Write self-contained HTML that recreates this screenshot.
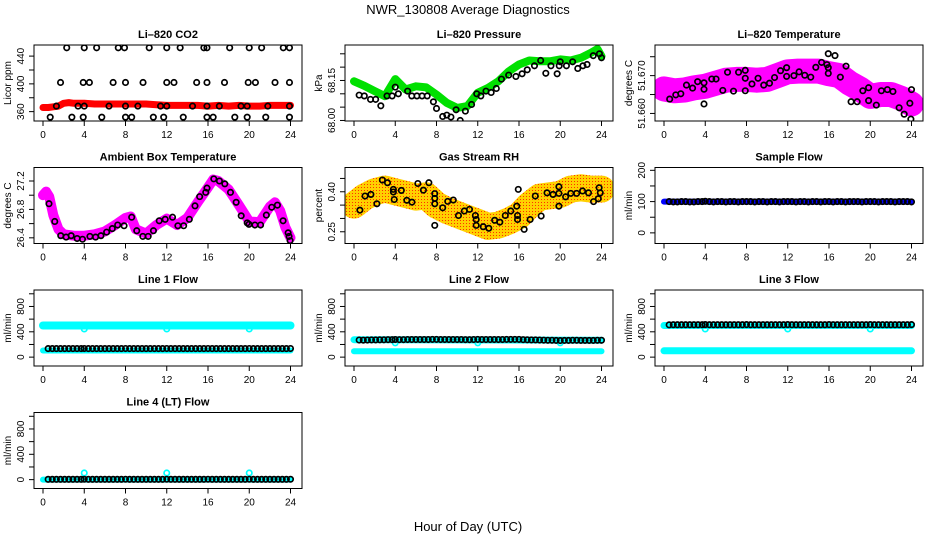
<!DOCTYPE html>
<html><head><meta charset="utf-8"><style>
html,body{margin:0;padding:0;background:#fff;}
svg{display:block;font-family:"Liberation Sans",Arial,sans-serif;}
</style></head><body>
<svg id="chart" width="936" height="540" viewBox="0 0 936 540">
<defs>
<pattern id="rhpat" width="3" height="3" patternUnits="userSpaceOnUse">
<rect width="3" height="3" fill="#ffd000"/>
<rect x="1" y="1" width="1" height="1" fill="#ff3000"/>
</pattern>
</defs>
<rect x="0" y="0" width="936" height="540" fill="#fff"/>
<text x="468" y="14" font-size="13" text-anchor="middle">NWR_130808  Average Diagnostics</text>
<text x="468" y="531" font-size="13" text-anchor="middle">Hour of Day (UTC)</text>
</svg>
<script>
const X_TICKS=[0,4,8,12,16,20,24];
// CO2
const co2BandX=[0,0.5,1,1.5,2,2.5,3,4,5,6,7,8,9,10,11,12,13,14,15,16,17,18,19,20,21,22,23,24];
const co2BandY=[366,366,367,368,372,373,372,372,371,371,371,371,371,371,370,369,369,369,369,368,369,368,369,368,368,369,369,369];
const co2PtX=[2.3,4,5.2,7.3,7.9,10.3,12,13.3,15.6,15.9,18.1,20,21.2,23.3,23.9, 1.7,3.9,4.5,6.8,8,9.7,12,12.7,14.9,15.9,17.6,19.9,20.6,22.5,23.9, 1.3,3.4,4,6.4,8,9.2,11.4,12,14.5,15.9,17.1,19.2,19.8,21.8,23.9, 0.7,2.8,3.9,5.7,8,8.6,10.7,11.7,13.6,15.9,16.5,18.6,19.8,21.6,23.9];
const co2PtY=[452,452,452,452,452,452,452,452,452,452,452,452,452,452,452, 402,402,402,402,402,402,402,402,402,402,402,402,402,402,402, 368,368,368,368,368,368,368,368,368,368,368,368,368,368,368, 352,352,352,352,352,352,352,352,352,352,352,352,352,352,352];
// Pressure
const presBandX=[0,1,2,3,4,5,6,7,8,9,10,11,12,13,14,15,16,17,18,19,20,21,22,23,23.6,24];
const presBandY=[68.147,68.13,68.11,68.091,68.155,68.116,68.128,68.124,68.097,68.066,68.047,68.054,68.104,68.122,68.147,68.184,68.21,68.225,68.222,68.222,68.229,68.225,68.235,68.254,68.268,68.241];
const presPtX=[0.5,1,1.6,2.1,2.6,3.2,3.7,4,4.3,5.2,5.6,6.1,6.6,7.1,7.7,8,8.6,9,9.4,9.9,10.3,10.8,11.4,11.9,12.3,12.8,13.3,13.8,14.3,15,15.7,16.3,16.8,17.5,18.1,18.6,19.1,19.7,19.9,20,20.6,21.2,21.7,22.2,22.6,23.2,23.8,24];
const presPtY=[68.095,68.092,68.079,68.079,68.055,68.092,68.092,68.125,68.1,68.11,68.092,68.092,68.092,68.092,68.07,68.045,68.015,68.02,68.013,68.04,68.0,68.035,68.06,68.1,68.092,68.11,68.105,68.12,68.155,68.17,68.165,68.175,68.19,68.205,68.225,68.177,68.205,68.175,68.205,68.22,68.205,68.22,68.195,68.205,68.21,68.243,68.25,68.235];
// Li-820 temperature
const tempBandX=[0,1,2,3,4,5,6,7,8,9,10,11,12,13,14,15,16,17,18,19,20,21,22,23,24];
const tempBandY=[51.6665,51.6660,51.6662,51.6668,51.6672,51.6680,51.6688,51.6690,51.6690,51.6688,51.6690,51.6700,51.6710,51.6712,51.6712,51.6712,51.6705,51.6700,51.6680,51.6665,51.6645,51.6650,51.6650,51.6640,51.6625];
const tempPtX=[0.55,1.14,1.63,2.18,2.77,3.26,3.88,3.88,3.88,4.63,5.05,5.7,6.16,6.74,7.23,7.88,7.88,7.88,8.53,9.12,9.67,10.23,10.72,11.3,11.89,11.89,12.6,13.1,13.65,14.23,14.72,15.28,15.8,15.93,15.93,15.93,16.58,17.1,17.65,18.14,18.73,19.28,19.84,19.84,20.59,21.08,21.66,22.2,22.8,23.29,23.84,23.94,24.0];
const tempPtY=[51.6638,51.6649,51.6652,51.6675,51.6667,51.6684,51.6681,51.6664,51.6625,51.6691,51.6691,51.6661,51.6709,51.6659,51.6709,51.6714,51.6693,51.6660,51.6678,51.6693,51.6675,51.6680,51.6695,51.6713,51.6721,51.6698,51.6700,51.6710,51.6701,51.6696,51.6722,51.6735,51.6729,51.6721,51.6706,51.6758,51.6753,51.6696,51.6725,51.6631,51.6631,51.6660,51.6668,51.6634,51.6622,51.6660,51.6663,51.6658,51.6615,51.6598,51.6627,51.6585,51.6663];
// Ambient box temperature
const ambBandX=[0,0.3,0.6,1,1.5,2,3,4,5,6,7,8,8.5,9,10,11,12,13,14,15,16,16.5,17,18,19,20,21,22,22.5,23,23.5,24];
const ambBandY=[27.0,27.05,26.98,26.72,26.52,26.45,26.43,26.43,26.45,26.49,26.58,26.68,26.7,26.52,26.46,26.58,26.67,26.58,26.68,26.9,27.11,27.22,27.2,27.08,26.86,26.63,26.62,26.84,26.9,26.78,26.55,26.4];
const ambPtX=[0.58,1.14,1.72,2.24,2.73,3.31,3.83,4.55,5.1,5.62,6.17,6.72,7.24,7.86,8.6,9.09,9.68,10.2,10.71,11.27,11.85,12.56,13.08,13.64,14.19,14.74,15.19,15.78,15.9,16.56,17.11,17.63,18.18,18.73,19.22,19.8,19.97,20.55,21.1,21.66,22.18,22.73,23.28,23.77,23.86,23.96];
const ambPtY=[26.88,26.63,26.43,26.41,26.43,26.39,26.38,26.42,26.41,26.43,26.48,26.53,26.58,26.57,26.69,26.50,26.42,26.42,26.50,26.64,26.66,26.69,26.57,26.57,26.66,26.85,26.98,27.04,27.10,27.23,27.2,27.16,27.04,26.9,26.71,26.61,26.59,26.58,26.58,26.72,26.83,26.86,26.64,26.47,26.42,26.36];
// Gas stream RH
const rhBandX=[0,1,2,3,4,5,6,7,8,9,10,11,12,13,14,15,16,17,18,19,20,21,22,23,24];
const rhBandY=[0.35,0.38,0.40,0.41,0.40,0.39,0.38,0.385,0.35,0.33,0.315,0.30,0.285,0.27,0.275,0.29,0.31,0.35,0.38,0.385,0.39,0.41,0.415,0.41,0.41];
const rhPtX=[0.57,1.07,1.64,2.22,2.75,3.25,3.82,3.82,3.9,4.59,5.12,5.62,6.19,6.73,7.26,7.83,7.83,7.83,7.83,8.6,9.09,9.63,10.13,10.7,11.2,11.77,11.85,11.85,12.53,13.07,13.64,14.14,14.67,15.2,15.78,15.86,15.86,15.93,16.5,17.08,17.58,18.15,18.72,19.3,19.87,19.87,19.87,20.52,21.02,21.59,22.16,22.74,23.23,23.69,23.77,23.88];
const rhPtY=[0.331,0.384,0.39,0.355,0.444,0.434,0.409,0.399,0.371,0.405,0.368,0.361,0.431,0.406,0.434,0.393,0.375,0.355,0.274,0.34,0.364,0.369,0.311,0.328,0.334,0.311,0.296,0.274,0.269,0.263,0.293,0.286,0.311,0.328,0.346,0.311,0.296,0.409,0.259,0.296,0.384,0.309,0.396,0.39,0.394,0.419,0.346,0.381,0.394,0.394,0.403,0.396,0.363,0.374,0.415,0.396];
// Flow panels (black hourly-average points)
const flowPtX=[0.5,0.9,1.3,1.7,2.1,2.5,2.9,3.3,3.7,4.0,4.4,4.8,5.2,5.6,6.0,6.4,6.8,7.2,7.6,8.0,8.4,8.8,9.2,9.6,10.0,10.4,10.8,11.2,11.6,12.0,12.4,12.8,13.2,13.6,14.0,14.4,14.8,15.2,15.6,16.0,16.4,16.8,17.2,17.6,18.0,18.4,18.8,19.2,19.6,20.0,20.4,20.8,21.2,21.6,22.0,22.4,22.8,23.2,23.6,24.0];
const sampleFlowY=[100,99,99,100,100,99,99,100,100,101,100,99,100,100,99,100,100,99,100,100,100,99,100,100,99,100,100,99,100,100,100,99,100,100,99,100,100,99,100,100,99,100,100,99,100,100,100,99,100,100,100,99,100,100,100,99,100,100,100,99];
const line1FlowY=[135,135,135,135,135,135,135,135,135,136,135,135,135,135,135,135,135,135,135,136,135,135,135,135,135,135,135,135,135,136,135,135,135,135,135,135,135,135,135,136,135,135,135,135,135,135,135,135,135,136,135,135,135,135,135,135,135,135,135,136];
const line2FlowY=[270,268,270,272,272,274,274,276,276,278,276,276,278,278,278,278,278,278,280,280,278,278,278,278,278,278,276,276,278,280,278,278,278,278,278,278,280,280,280,280,276,274,272,272,270,268,266,266,264,262,264,264,266,266,264,264,264,264,266,266];
const line3FlowY=[510,512,512,512,512,512,512,512,512,514,512,512,512,512,512,512,512,512,512,514,512,512,512,512,512,512,512,512,512,514,512,512,512,512,512,512,512,512,512,514,512,512,512,512,512,512,512,512,512,514,512,512,512,512,512,512,512,512,512,514];
const line4FlowY=[5,5,5,5,5,5,5,5,5,6,5,5,5,5,5,5,5,5,5,6,5,5,5,5,5,5,5,5,5,6,5,5,5,5,5,5,5,5,5,6,5,5,5,5,5,5,5,5,5,6,5,5,5,5,5,5,5,5,5,6];
// Flow bands
const flowBandX=[0,24];
const sampleBandY=[100,100];
const line1HighY=[500,500];
const line1LowY=[105,105];
const line2HighY=[275,268];
const line2LowY=[92,92];
const line3HighY=[500,500];
const line3LowY=[100,100];
const line4BandY=[0,0];
const cyanDipX=[4,12,20];
const line1DipY=[445,445,445];
const line2DipY=[225,225,225];
const line3DipY=[445,445,445];
const line4DipY=[105,105,105];

const NS='http://www.w3.org/2000/svg';
const svg=document.getElementById('chart');
const COLS=[34,345,655], ROWS=[45,167.5,290,412.5], W=268, H=76;
function mk(tag,attrs,parent){const e=document.createElementNS(NS,tag);for(const k in attrs)e.setAttribute(k,attrs[k]);(parent||svg).appendChild(e);return e;}

function panel(c,r,title,ylabel,ymin,ymax,yTicks,yLabels,name){
  const L=COLS[c],T=ROWS[r];
  const g=mk('g',{});
  
  
  const sx=h=>L+9+h*(247.5/24);
  const sy=v=>T+H-(v-ymin)/(ymax-ymin)*H;
  const clipId='clip'+c+r;
  const cp=mk('clipPath',{id:clipId},g);mk('rect',{x:L,y:T,width:W,height:H},cp);
  const plot=mk('g',{'clip-path':'url(#'+clipId+')'},g);
  const t=mk('text',{x:L+W/2,y:T-7,'font-size':11,'font-weight':'bold','text-anchor':'middle'},g);t.textContent=title;
  
  
  const box=mk('rect',{x:L,y:T,width:W,height:H,fill:'none',stroke:'#000','stroke-width':1},g);
  
  
  X_TICKS.forEach(h=>{
    mk('line',{x1:sx(h),x2:sx(h),y1:T+H,y2:T+H+5,stroke:'#000'},g);
    const tl=mk('text',{x:sx(h),y:T+H+17,'font-size':10,'text-anchor':'middle'},g);tl.textContent=h;
    
    
  });
  yTicks.forEach(v=>{mk('line',{x1:L-5,x2:L,y1:sy(v),y2:sy(v),stroke:'#000'},g);});
  yLabels.forEach(lb=>{
    const v=parseFloat(lb);const y=sy(v);
    const tl=mk('text',{x:L-10,y:y,'font-size':10,'text-anchor':'middle',transform:'rotate(-90 '+(L-10)+' '+y+')'},g);tl.textContent=lb;
    
    
  });
  const yl=mk('text',{x:L-23,y:T+H/2,'font-size':10,'text-anchor':'middle',transform:'rotate(-90 '+(L-23)+' '+(T+H/2)+')'},g);yl.textContent=ylabel;
  
  
  return {plot,sx,sy};
}
function band(p,xs,ys,color,w,name){
  const pts=xs.map((x,i)=>p.sx(x).toFixed(1)+','+p.sy(ys[i]).toFixed(1)).join(' ');
  const pl=mk('polyline',{points:pts,fill:'none',stroke:color,'stroke-width':w,'stroke-linejoin':'round','stroke-linecap':'round'},p.plot);
  
  
}
function pts(p,xs,ys,color,name){
  xs.forEach((x,i)=>{
    const c=mk('circle',{cx:p.sx(x),cy:p.sy(ys[i]),r:2.7,fill:'none',stroke:color,'stroke-width':1.7},p.plot);
    
    
  });
}
const FLOW_TICKS=[0,200,400,600,800,1000], FLOW_LABELS=['0','400','800'];
let p;
p=panel(0,0,'Li\u2013820 CO2','Licor ppm',346.5,456,[360,380,400,420,440],['360','400','440'],'co2');
band(p,co2BandX,co2BandY,'#ff0000',7,'co2-band');pts(p,co2PtX,co2PtY,'#000','co2-point');
p=panel(1,0,'Li\u2013820 Pressure','kPa',67.998,68.283,[68.00,68.05,68.10,68.15,68.20,68.25],['68.00','68.15'],'pressure');
band(p,presBandX,presBandY,'#00e000',8,'pressure-band');pts(p,presPtX,presPtY,'#000','pressure-point');
p=panel(2,0,'Li\u2013820 Temperature','degrees C',51.658,51.6781,[51.660,51.665,51.670,51.675],['51.660','51.670'],'li820-temp');
band(p,tempBandX,tempBandY,'#ff00ff',25,'li820-temp-band');pts(p,tempPtX,tempPtY,'#000','li820-temp-point');
p=panel(0,1,'Ambient Box Temperature','degrees C',26.32,27.39,[26.4,26.6,26.8,27.0,27.2],['26.4','26.8','27.2'],'ambient-temp');
band(p,ambBandX,ambBandY,'#ff00ff',10,'ambient-band');pts(p,ambPtX,ambPtY,'#000','ambient-point');
p=panel(1,1,'Gas Stream RH','percent',0.206,0.491,[0.25,0.30,0.35,0.40,0.45],['0.25','0.40'],'rh');
band(p,rhBandX,rhBandY,'url(#rhpat)',27,'rh-band');pts(p,rhPtX,rhPtY,'#000','rh-point');
p=panel(2,1,'Sample Flow','ml/min',-34,209,[0,50,100,150,200],['0','100','200'],'sample-flow');
band(p,flowBandX,sampleBandY,'#0000ff',6,'sample-flow-band');pts(p,flowPtX,sampleFlowY,'#000','sample-flow-point');
p=panel(0,2,'Line 1 Flow','ml/min',-140,1060,FLOW_TICKS,FLOW_LABELS,'line1-flow');
band(p,flowBandX,line1HighY,'#00ffff',8,'line1-high-band');band(p,flowBandX,line1LowY,'#00ffff',6,'line1-low-band');pts(p,cyanDipX,line1DipY,'#00ffff','line1-dip');pts(p,flowPtX,line1FlowY,'#000','line1-point');
p=panel(1,2,'Line 2 Flow','ml/min',-140,1060,FLOW_TICKS,FLOW_LABELS,'line2-flow');
band(p,flowBandX,line2HighY,'#00ffff',7,'line2-high-band');band(p,flowBandX,line2LowY,'#00ffff',6,'line2-low-band');pts(p,cyanDipX,line2DipY,'#00ffff','line2-dip');pts(p,flowPtX,line2FlowY,'#000','line2-point');
p=panel(2,2,'Line 3 Flow','ml/min',-140,1060,FLOW_TICKS,FLOW_LABELS,'line3-flow');
band(p,flowBandX,line3HighY,'#00ffff',7,'line3-high-band');band(p,flowBandX,line3LowY,'#00ffff',7,'line3-low-band');pts(p,cyanDipX,line3DipY,'#00ffff','line3-dip');pts(p,flowPtX,line3FlowY,'#000','line3-point');
p=panel(0,3,'Line 4 (LT) Flow','ml/min',-140,1060,FLOW_TICKS,FLOW_LABELS,'line4-flow');
band(p,flowBandX,line4BandY,'#00ffff',6,'line4-band');pts(p,cyanDipX,line4DipY,'#00ffff','line4-dip');pts(p,flowPtX,line4FlowY,'#000','line4-point');
</script>
</body></html>
